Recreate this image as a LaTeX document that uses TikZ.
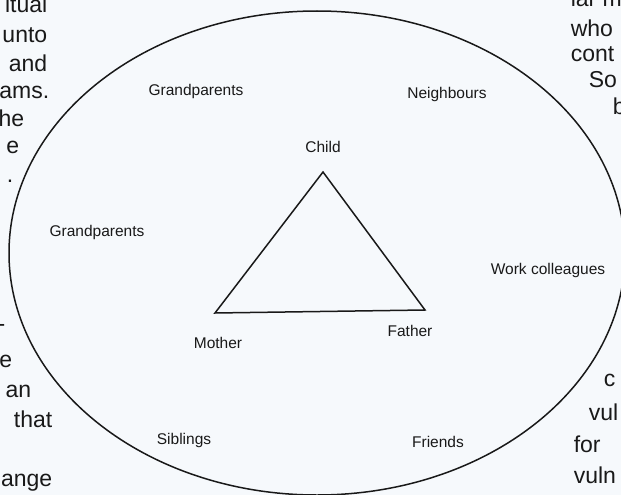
\documentclass[tikz,border=0pt]{standalone}
\usepackage{fontspec}
\setmainfont{Liberation Sans}
\usepackage{tikz}
\usetikzlibrary{calc}

\definecolor{paper}{RGB}{246,249,252}
\definecolor{ink}{RGB}{25,25,25}

\begin{document}
\begin{tikzpicture}[x=1pt, y=-1pt, semithick, line width=1.5pt,
    every node/.style={text=ink, inner sep=0pt},
    who/.style={font=\fontsize{15.5}{18}\selectfont},
    page/.style={font=\fontsize{23}{27}\selectfont}]

    \fill[paper] (0,0) rectangle (621,495);
    \useasboundingbox (0,0) rectangle (621,495);
    \clip (0,0) rectangle (621,495);

    % page text round the figure
    \node[page, anchor=base east] (l1) at (48,13) {itual};
    \node[page, anchor=base east] (l2) at (48,43) {unto};
    \node[page, anchor=base east] (l3) at (48,71) {and};
    \node[page, anchor=base east] (l4) at (50,99) {ams.};
    \node[page, anchor=base east] (l5) at (25,126) {he};
    \node[page, anchor=base east] (l6) at (20,153) {e};
    \node[page, anchor=base east] (l7) at (14,182) {.};
    \node[page, anchor=base east] (l8) at (6,331) {-};
    \node[page, anchor=base east] (l9) at (13,367) {e};
    \node[page, anchor=base east] (l10) at (32,397) {an};
    \node[page, anchor=base east] (l11) at (53,427) {that};
    \node[page, anchor=base east] (l12) at (53,486) {ange};

    \node[page, anchor=base west] (r1) at (570,7) {lar m};
    \node[page, anchor=base west] (r2) at (570,37) {who};
    \node[page, anchor=base west] (r3) at (570,62) {cont};
    \node[page, anchor=base west] (r4) at (588,87) {So};
    \node[page, anchor=base west] (r5) at (612,114) {b};
    \node[page, anchor=base west] (r6) at (603,386) {c};
    \node[page, anchor=base west] (r7) at (588,420) {vul};
    \node[page, anchor=base west] (r8) at (573,452) {for};
    \node[page, anchor=base west] (r9) at (573,483) {vuln};

    % outer circle
    \draw[ink] (317,253) ellipse [x radius=308, y radius=242];

    % triangle
    \coordinate (c) at (323,172);
    \coordinate (m) at (215,313);
    \coordinate (f) at (425,310);
    \draw[ink, line join=miter] (c) -- (m) -- (f) -- cycle;

    \node[who] (child) at (323,147) {Child};
    \node[who] (mother) at (218,343) {Mother};
    \node[who] (father) at (410,331) {Father};

    \node[who] (gp1) at (196,91) {Grandparents};
    \node[who] (nb) at (447,94) {Neighbours};
    \node[who] (gp2) at (97,232) {Grandparents};
    \node[who] (wc) at (548,270) {Work colleagues};
    \node[who] (sib) at (184,440) {Siblings};
    \node[who] (fr) at (438,442) {Friends};

\end{tikzpicture}
\end{document}
